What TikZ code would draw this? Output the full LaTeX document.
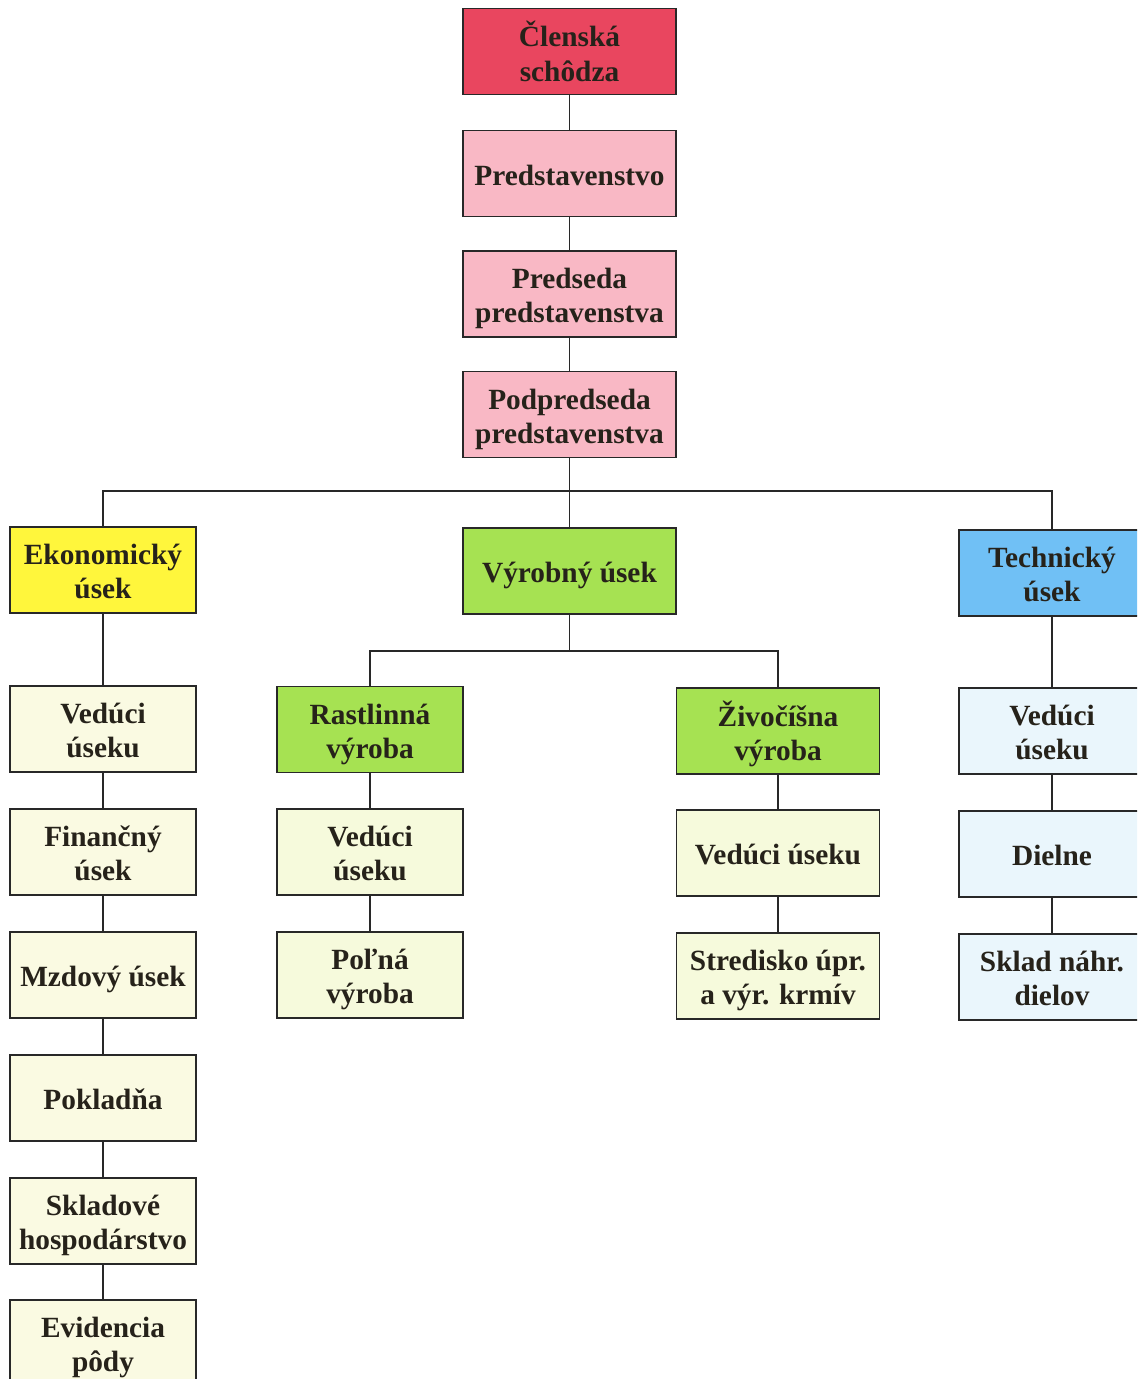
\documentclass[tikz,border=0pt]{standalone}
\usepackage{fontspec}
\setmainfont{Liberation Serif}
\definecolor{crimsonbox}{RGB}{233,70,95}
\definecolor{pinkbox}{RGB}{249,184,197}
\definecolor{yellowbox}{RGB}{255,246,60}
\definecolor{greenbox}{RGB}{166,226,82}
\definecolor{bluebox}{RGB}{112,192,245}
\definecolor{paleyellow}{RGB}{250,250,226}
\definecolor{palegreen}{RGB}{246,250,220}
\definecolor{paleblue}{RGB}{234,246,252}
\definecolor{inkcol}{RGB}{38,34,26}
\definecolor{linecol}{RGB}{40,40,40}
\newcommand\boxtext[1]{\raisebox{-2.8pt}[\height][\depth]{\begin{tabular}{@{}c@{}}#1\end{tabular}}}
\tikzset{
  orgbox/.style={draw=linecol, line width=1pt, rectangle,
    text=inkcol, font=\fontsize{16.7}{19.5}\selectfont\bfseries,
    minimum height=1.72cm, minimum width=3.72cm, inner sep=1pt},
  widebox/.style={orgbox, minimum width=4.26cm},
  midbox/.style={orgbox, minimum width=4.06cm},
  conn/.style={draw=linecol, line width=1pt}
}
\begin{document}
\begin{tikzpicture}[x=0.02cm,y=-0.02cm]
\useasboundingbox (0,0) rectangle (1137,1379);
\clip (0,0) rectangle (1137,1379);
% top chain
\node[widebox, fill=crimsonbox] (cs) at (569.5,51.5) {\boxtext{Členská\\schôdza}};
\node[widebox, fill=pinkbox] (pr) at (569.5,173.5) {\boxtext{Predstavenstvo}};
\node[widebox, fill=pinkbox] (pp) at (569.5,294) {\boxtext{Predseda\\predstavenstva}};
\node[widebox, fill=pinkbox] (pod) at (569.5,414.5) {\boxtext{Podpredseda\\predstavenstva}};
% divisions
\node[orgbox, fill=yellowbox] (ek) at (103,570) {\boxtext{Ekonomický\\úsek}};
\node[widebox, fill=greenbox] (vy) at (569.5,571) {\boxtext{Výrobný úsek}};
\node[orgbox, fill=bluebox] (te) at (1052,573) {\boxtext{Technický\\úsek}};
% economic column
\node[orgbox, fill=paleyellow] (lv) at (103,729) {\boxtext{Vedúci\\úseku}};
\node[orgbox, fill=paleyellow] (fin) at (103,852) {\boxtext{Finančný\\úsek}};
\node[orgbox, fill=paleyellow] (mz) at (103,975) {\boxtext{Mzdový úsek}};
\node[orgbox, fill=paleyellow] (pok) at (103,1098) {\boxtext{Pokladňa}};
\node[orgbox, fill=paleyellow] (skl) at (103,1221) {\boxtext{Skladové\\hospodárstvo}};
\node[orgbox, fill=paleyellow] (ev) at (103,1343) {\boxtext{Evidencia\\pôdy}};
% production
\node[orgbox, fill=greenbox] (ra) at (370,729.5) {\boxtext{Rastlinná\\výroba}};
\node[orgbox, fill=palegreen] (rv) at (370,852) {\boxtext{Vedúci\\úseku}};
\node[orgbox, fill=palegreen] (pol) at (370,975) {\boxtext{Poľná\\výroba}};
\node[midbox, fill=greenbox] (zi) at (778,731) {\boxtext{Živočíšna\\výroba}};
\node[midbox, fill=palegreen] (zv) at (778,853) {\boxtext{Vedúci úseku}};
\node[midbox, fill=palegreen] (st) at (778,976) {\boxtext{Stredisko úpr.\\a výr. krmív}};
% technical column
\node[orgbox, fill=paleblue] (tv) at (1052,731) {\boxtext{Vedúci\\úseku}};
\node[orgbox, fill=paleblue] (di) at (1052,854) {\boxtext{Dielne}};
\node[orgbox, fill=paleblue] (sk) at (1052,977) {\boxtext{Sklad náhr.\\dielov}};
% connectors
\coordinate (bus) at (569.5,491);
\coordinate (bus2) at (569.5,651);
\draw[conn] (cs) -- (pr);
\draw[conn] (pr) -- (pp);
\draw[conn] (pp) -- (pod);
\draw[conn] (pod) -- (vy);
\draw[conn] (ek.north) |- (bus) -| (te.north);
\draw[conn] (vy.south) -- (bus2);
\draw[conn] (ra.north) |- (bus2) -| (zi.north);
\draw[conn] (ek) -- (lv);
\draw[conn] (lv) -- (fin);
\draw[conn] (fin) -- (mz);
\draw[conn] (mz) -- (pok);
\draw[conn] (pok) -- (skl);
\draw[conn] (skl) -- (ev);
\draw[conn] (ra) -- (rv);
\draw[conn] (rv) -- (pol);
\draw[conn] (zi) -- (zv);
\draw[conn] (zv) -- (st);
\draw[conn] (te) -- (tv);
\draw[conn] (tv) -- (di);
\draw[conn] (di) -- (sk);
\end{tikzpicture}
\end{document}
